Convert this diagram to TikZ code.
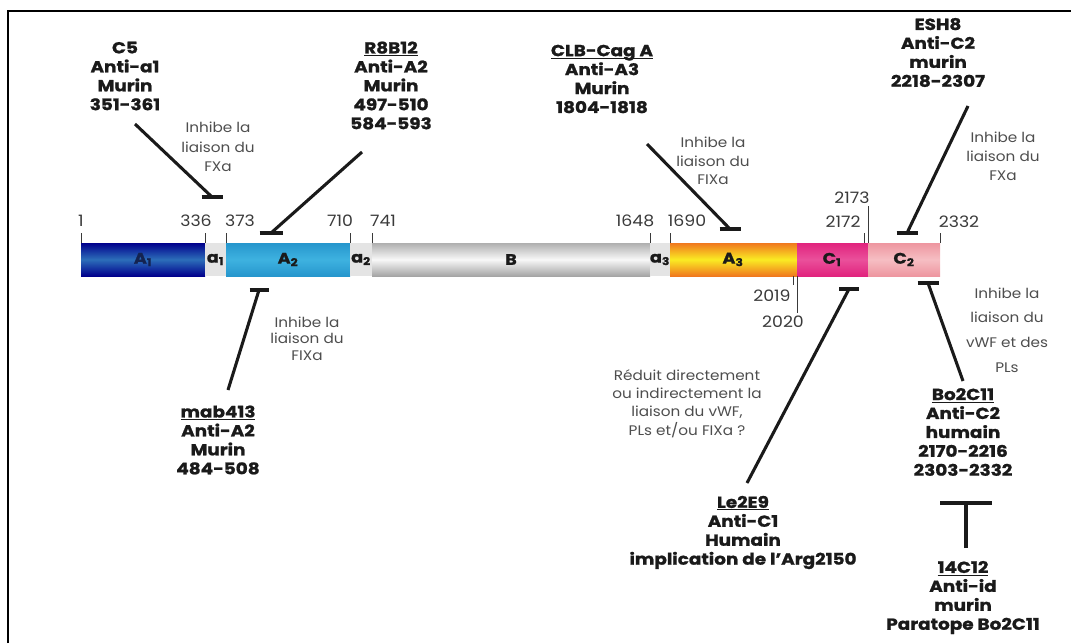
\documentclass[tikz,border=0pt]{standalone}
\usepackage{fontspec}
\setmainfont{Poppins}
\newfontfamily\abfont[FakeStretch=1.15, BoldFeatures={FakeBold=1.2}]{Poppins}
\newfontfamily\wdfont[FakeStretch=1.1]{Poppins}
\usetikzlibrary{calc}

\definecolor{ink}{HTML}{1A1A1A}
\definecolor{notec}{HTML}{4E4E4E}
\definecolor{numc}{HTML}{3A3A3A}
\definecolor{spacer}{HTML}{E4E4E4}

% underline that ignores descenders
\newcommand{\abul}[1]{\underline{\raisebox{0pt}[\height][0pt]{#1}}}

\begin{document}
\begin{tikzpicture}[x=0.75pt,y=-0.75pt,
  ab/.style={font=\abfont\bfseries\fontsize{12}{14.2}\selectfont, text=ink, align=center, inner sep=0pt},
  note/.style={font=\wdfont\fontsize{10.4}{#1}\selectfont, text=notec, align=center, inner sep=0pt},
  num/.style={font=\wdfont\fontsize{11.8}{12}\selectfont, text=numc, inner sep=0pt},
  seglab/.style={font=\abfont\bfseries\fontsize{11.5}{10}\selectfont, text=ink, inner sep=0pt},
  stem/.style={line width=2.3pt, draw=ink, line cap=butt},
  tickline/.style={line width=0.75pt, draw=numc}]

\useasboundingbox (0,0) rectangle (1071,643);

% open frame (top and left edges)
\draw[line width=1.5pt, black] (8,643) -- (8,11) -- (1071,11);

% ---- domain bar ----
\shade[top color=blue!55!black, bottom color=blue!55!black, middle color={rgb,255:red,44;green,110;blue,185}] (81,243) rectangle (205,276);
\fill[spacer] (205,243) rectangle (226,276);
\shade[top color={rgb,255:red,38;green,150;blue,205}, bottom color={rgb,255:red,38;green,150;blue,205}, middle color={rgb,255:red,62;green,178;blue,224}] (226,243) rectangle (350,276);
\fill[spacer] (350,243) rectangle (372,276);
\shade[top color={rgb,255:red,175;green,175;blue,175}, bottom color={rgb,255:red,165;green,165;blue,165}, middle color={rgb,255:red,248;green,248;blue,248}] (372,243) rectangle (650,276);
\fill[spacer] (650,243) rectangle (670,276);
\shade[top color={rgb,255:red,240;green,120;blue,30}, bottom color={rgb,255:red,240;green,120;blue,30}, middle color={rgb,255:red,250;green,235;blue,35}] (670,243) rectangle (797,276);
\shade[top color={rgb,255:red,225;green,35;blue,125}, bottom color={rgb,255:red,225;green,35;blue,125}, middle color={rgb,255:red,234;green,80;blue,155}] (797,243) rectangle (868,276);
\shade[top color={rgb,255:red,238;green,150;blue,160}, bottom color={rgb,255:red,238;green,150;blue,160}, middle color={rgb,255:red,246;green,190;blue,195}] (868,243) rectangle (940,276);

% domain names
\node[seglab, text={rgb,255:red,20;green,35;blue,80}] (lA1) at (143,259.5) {A\textsubscript{1}};
\node[seglab] (la1) at (215.5,259.5) {a\textsubscript{1}};
\node[seglab] (lA2) at (288,259.5) {A\textsubscript{2}};
\node[seglab] (la2) at (361,259.5) {a\textsubscript{2}};
\node[seglab] (lB) at (511,259.5) {B};
\node[seglab] (la3) at (660,259.5) {a\textsubscript{3}};
\node[seglab] (lA3) at (733,259.5) {A\textsubscript{3}};
\node[seglab] (lC1) at (832,259.5) {C\textsubscript{1}};
\node[seglab] (lC2) at (904,259.5) {C\textsubscript{2}};

% ---- residue boundaries ----
\foreach \xx in {81,205,226,350,372,650,670,864,940}
  \draw[tickline] (\xx,233) -- (\xx,243);
\draw[tickline] (868,206) -- (868,243);
\draw[tickline] (793,276) -- (793,285);
\draw[tickline] (797,276) -- (797,313);

\node[num] (p1) at (81,221) {1};
\node[num] (p336) at (196,221) {336};
\node[num] (p373) at (240,221) {373};
\node[num] (p710) at (340,221) {710};
\node[num] (p741) at (383,221) {741};
\node[num] (p1648) at (635,221) {1648};
\node[num] (p1690) at (687,221) {1690};
\node[num] (p2172) at (843,222) {2172};
\node[num] (p2332) at (959,222) {2332};
\node[num] (p2173) at (852,198) {2173};
\node[num] (p2019) at (772,296) {2019};
\node[num] (p2020) at (783,322) {2020};

% ---- antibodies ----
\node[ab] (c5) at (125,76) {C5\\Anti-a1\\Murin\\351-361};
\node[ab] (r8b12) at (391,85.5) {\abul{R8B12}\\Anti-A2\\Murin\\497-510\\584-593};
\node[ab] (clb) at (602,79) {\abul{CLB-Cag A}\\Anti-A3\\Murin\\1804-1818};
\node[ab] (esh8) at (938,52.5) {ESH8\\Anti-C2\\murin\\2218-2307};
\node[ab] (mab) at (218,440) {\abul{mab413}\\Anti-A2\\Murin\\484-508};
\node[ab] (le2e9) at (743,532.5) {\abul{Le2E9}\\Anti-C1\\Humain\\implication de l’Arg2150};
\node[ab] (bo2c11) at (963,432) {\abul{Bo2C11}\\Anti-C2\\humain\\2170-2216\\2303-2332};
\node[ab] (c14) at (963,597.5) {\abul{14C12}\\Anti-id\\murin\\Paratope Bo2C11};

% ---- effects ----
\node[note=14.6] (n1) at (218,147) {Inhibe la\\liaison du\\FXa};
\node[note=14] (n2) at (713,161) {Inhibe la\\liaison du\\FIXa};
\node[note=14.2] (n3) at (1003,156) {Inhibe la\\liaison du\\FXa};
\node[note=12.5] (n4) at (307,338.5) {Inhibe la\\liaison du\\FIXa};
\node[note=13.7] (n5) at (687,403.5) {Réduit directement\\ou indirectement la\\liaison du vWF,\\PLs et/ou FIXa ?};
\node[note=18.5] (n6) at (1007,330) {Inhibe la\\liaison du\\vWF et des\\PLs};

% ---- inhibition stems and bars ----
\coordinate (c5s) at (135,124);   \coordinate (c5t) at (212,197);
\coordinate (r8s) at (362,152);   \coordinate (r8t) at (271,233);
\coordinate (clbs) at (647,144);  \coordinate (clbt) at (730,229);
\coordinate (eshs) at (968,106);  \coordinate (esht) at (907,233);
\coordinate (mabs) at (228,390);  \coordinate (mabt) at (259,290);
\coordinate (les) at (747,483);   \coordinate (let) at (849,289);
\coordinate (bos) at (963,381);   \coordinate (bot) at (928,283);
\coordinate (cs) at (966,548);    \coordinate (ct) at (966,503);

\foreach \s/\t/\w in {c5s/c5t/10.5, r8s/r8t/11.5, clbs/clbt/10.5, eshs/esht/10.5,
                      mabs/mabt/9.5, les/let/10, bos/bot/10.5, cs/ct/26} {
  \draw[stem] (\s) -- (\t);
  \draw[stem] ([shift={(-\w,0)}]\t) -- ([shift={(\w,0)}]\t);
}

\end{tikzpicture}
\end{document}
